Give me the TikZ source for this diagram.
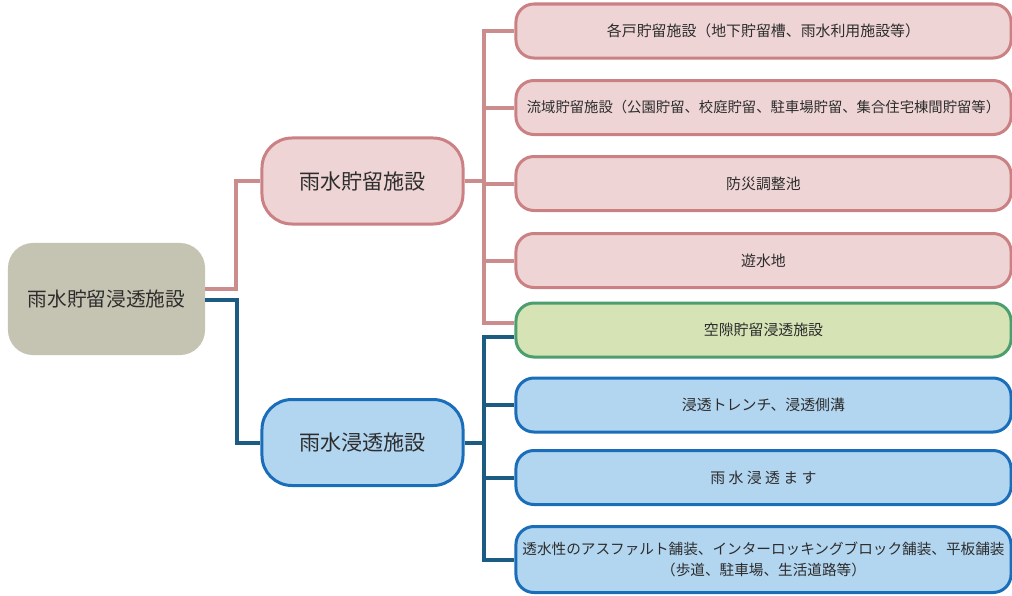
\documentclass[tikz,border=0pt]{standalone}
\usepackage{fontspec}
\setmainfont{Noto Sans CJK JP}
\usepackage{xcolor}
\usepackage{tikz}
\definecolor{rootgray}{RGB}{197,195,178}
\definecolor{pinkfill}{RGB}{238,212,212}
\definecolor{pinkedge}{RGB}{203,128,132}
\definecolor{pinkwire}{RGB}{203,140,142}
\definecolor{greenfill}{RGB}{213,227,181}
\definecolor{greenedge}{RGB}{76,158,110}
\definecolor{bluefill}{RGB}{178,213,240}
\definecolor{blueedge}{RGB}{26,109,184}
\definecolor{bluewire}{RGB}{29,92,130}
\definecolor{txtgray}{RGB}{45,45,45}
\tikzset{
  rootbox/.style={fill=rootgray, rounded corners=6.25mm, minimum width=4.925cm, minimum height=2.8cm, text=txtgray, font=\fontsize{14}{17}\selectfont},
  midbox/.style={rounded corners=7.5mm, minimum width=5.025cm, minimum height=2.15cm, line width=0.75mm, text=txtgray, font=\fontsize{15}{18}\selectfont},
  itembox/.style={rounded corners=4.5mm, minimum width=12.375cm, minimum height=1.35cm, line width=0.75mm, inner xsep=1pt, text=txtgray, font=\fontsize{10.6}{13}\selectfont},
  pinkbox/.style={draw=pinkedge, fill=pinkfill},
  greenbox/.style={draw=greenedge, fill=greenfill},
  bluebox/.style={draw=blueedge, fill=bluefill},
  pinkline/.style={draw=pinkwire, line width=1mm},
  blueline/.style={draw=bluewire, line width=1mm}
}

\begin{document}
\begin{tikzpicture} [x=0.025cm, y=-0.025cm]
\useasboundingbox (0,0) rectangle (1012,595);
\node[rootbox] (root) at (106.5,299) {雨水貯留浸透施設};
\node[midbox, pinkbox] (mtop) at (362.5,181) {雨水貯留施設};
\node[midbox, bluebox] (mbot) at (362.5,442.5) {雨水浸透施設};
\foreach \n/\y/\t in {r1/31/{各戸貯留施設（地下貯留槽、雨水利用施設等）}, r2/107.5/{\fontsize{10.2}{13}\selectfont 流域貯留施設（公園貯留、校庭貯留、駐車場貯留、集合住宅棟間貯留等）}, r3/183.5/{防災調整池}, r4/260.5/{遊水地}} {
 \node[itembox, pinkbox] (\n) at (763.5,\y) {\t};
}
\node[itembox, greenbox] (r5) at (763.5,330) {空隙貯留浸透施設};
\foreach \n/\y/\t in {r6/405/{浸透トレンチ、浸透側溝}, r7/477.5/{雨 水 浸 透 ま す}} {
 \node[itembox, bluebox] (\n) at (763.5,\y) {\t};
}
\node[itembox, bluebox, minimum height=1.65cm, align=center, font=\fontsize{10.4}{15}\selectfont] (r8) at (763.5,559.5) {透水性のアスファルト舗装、インターロッキングブロック舗装、平板舗装\\（歩道、駐車場、生活道路等）};
\coordinate (pk) at (484,181);
\coordinate (bk) at (484,442.5);
\draw[pinkline] ([yshift=2.5mm]root.east) -- ++(31,0) |- (mtop.west);
\draw[blueline] ([yshift=-0.2mm]root.east) -- ++(32,0) |- (mbot.west);
\draw[pinkline] (mtop.east) -- (pk);
\foreach \n in {r1,r2,r3,r4} {
 \draw[pinkline] (pk) |- (\n.west);
}
\draw[pinkline] (pk) |- ([yshift=1.75mm]r5.west);
\draw[blueline] (mbot.east) -- (bk);
\foreach \n in {r6,r7,r8} {
 \draw[blueline] (bk) |- (\n.west);
}
\draw[blueline] (bk) |- ([yshift=-1.75mm]r5.west);
\end{tikzpicture}
\end{document}
